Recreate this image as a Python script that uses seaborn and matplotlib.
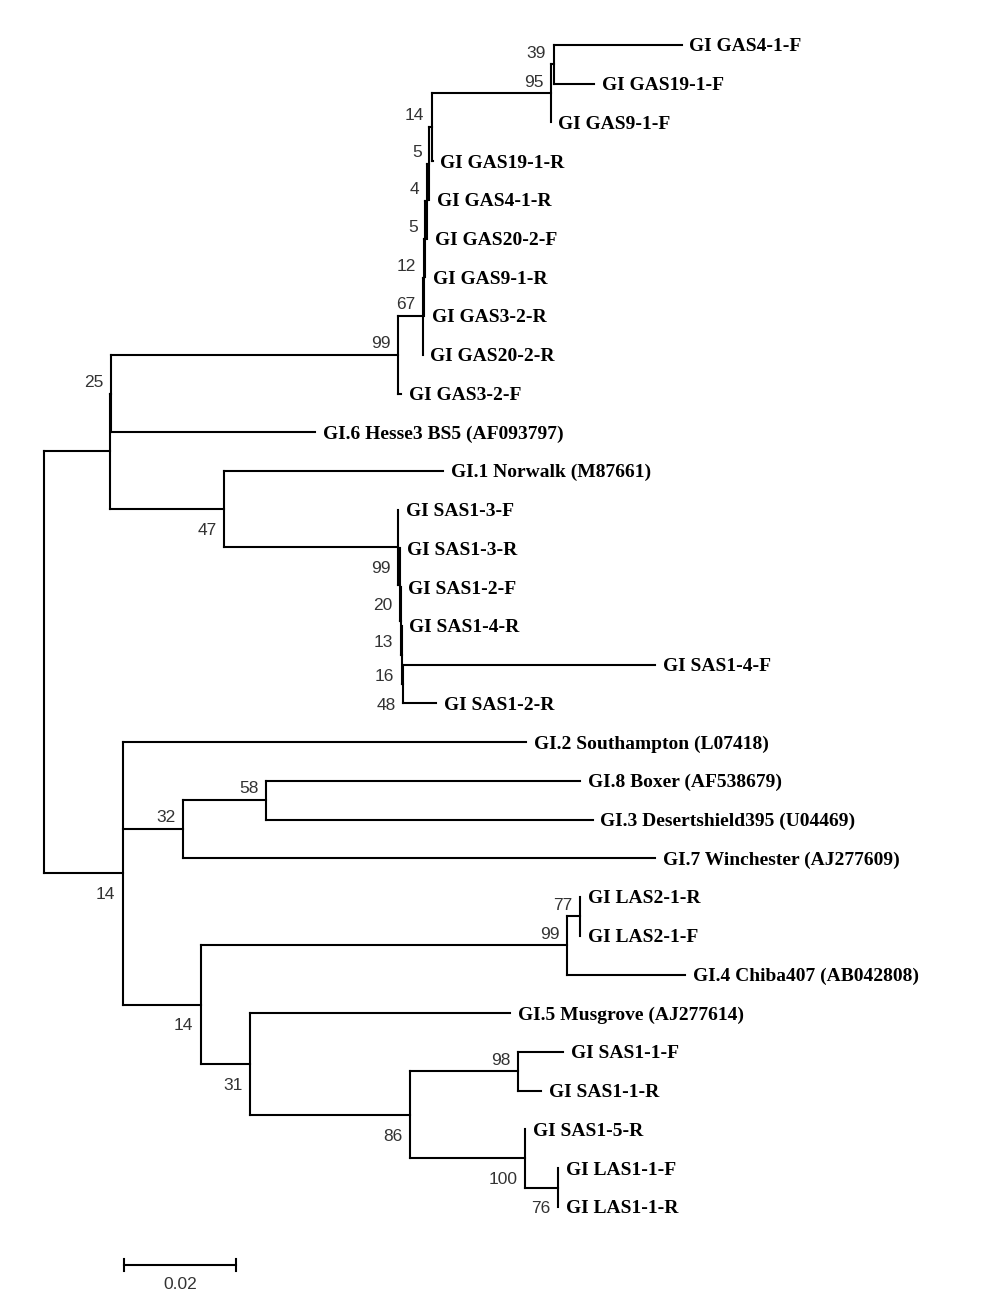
import pandas as pd
import matplotlib.pyplot as plt
import seaborn as sns

# tree edges, listed so that each node's children go top to bottom
parents = ["root", "root",
           "A", "A",
           "A1", "A1",
           "N99", "N99", "N67", "N67", "N12", "N12", "N5b", "N5b",
           "N4", "N4", "N5a", "N5a", "N14", "N14", "N95", "N95", "N39", "N39",
           "N47", "N47", "N99c", "N99c", "N20", "N20", "N13", "N13",
           "N16", "N16", "N48", "N48",
           "B", "B", "B", "N32", "N32", "N58", "N58",
           "N14b", "N14b", "N99b", "N99b", "N77", "N77",
           "N31", "N31", "N86", "N86", "N98", "N98", "N100", "N100", "N76", "N76"]
children = ["A", "B",
            "A1", "N47",
            "N99", "GI.6 Hesse3 BS5 (AF093797)",
            "N67", "GI GAS3-2-F", "N12", "GI GAS20-2-R", "N5b", "GI GAS3-2-R", "N4", "GI GAS9-1-R",
            "N5a", "GI GAS20-2-F", "N14", "GI GAS4-1-R", "N95", "GI GAS19-1-R", "N39", "GI GAS9-1-F",
            "GI GAS4-1-F", "GI GAS19-1-F",
            "GI.1 Norwalk (M87661)", "N99c", "GI SAS1-3-F", "N20", "GI SAS1-3-R", "N13", "GI SAS1-2-F", "N16",
            "GI SAS1-4-R", "N48", "GI SAS1-4-F", "GI SAS1-2-R",
            "GI.2 Southampton (L07418)", "N32", "N14b", "N58", "GI.7 Winchester (AJ277609)",
            "GI.8 Boxer (AF538679)", "GI.3 Desertshield395 (U04469)",
            "N99b", "N31", "N77", "GI.4 Chiba407 (AB042808)", "GI LAS2-1-R", "GI LAS2-1-F",
            "GI.5 Musgrove (AJ277614)", "N86", "N98", "N100", "GI SAS1-1-F", "GI SAS1-1-R",
            "GI SAS1-5-R", "N76", "GI LAS1-1-F", "GI LAS1-1-R"]
lengths = [0.0118, 0.0141,
           0.0002, 0.0204,
           0.0513, 0.0364,
           0.0043, 0.0005, 0.0002, 0.0, 0.0003, 0.0001, 0.0003, 0.0,
           0.0004, 0.0, 0.0004, 0.0, 0.0213, 0.0002, 0.0005, 0.0, 0.0229, 0.0073,
           0.0391, 0.0311, 0.0, 0.0002, 0.0, 0.0002, 0.0, 0.0002,
           0.0, 0.0002, 0.0450, 0.0059,
           0.0720, 0.0107, 0.0139, 0.0148, 0.0843, 0.0561, 0.0584,
           0.0654, 0.0088, 0.0023, 0.0211, 0.0, 0.0,
           0.0464, 0.0286, 0.0193, 0.0205, 0.0080, 0.0041, 0.0, 0.0059, 0.0, 0.0]

support_nodes = ["A1", "N99", "N67", "N12", "N5b", "N4", "N5a", "N14", "N95", "N39",
                 "N47", "N99c", "N20", "N13", "N16", "N48",
                 "B", "N32", "N58", "N14b", "N99b", "N77", "N31", "N86", "N98", "N100", "N76"]
support_values = [25, 99, 67, 12, 5, 4, 5, 14, 95, 39,
                  47, 99, 20, 13, 16, 48,
                  14, 32, 58, 14, 99, 77, 31, 86, 98, 100, 76]

scale_len = 0.02

# layout
kids = {}
for p, c in zip(parents, children):
    kids.setdefault(p, []).append(c)
blen = dict(zip(children, lengths))
xpos = {"root": 0.0}
ypos = {}
leaves = []


def place(node):
    for c in kids.get(node, []):
        xpos[c] = xpos[node] + blen[c]
        place(c)
    if node in kids:
        ypos[node] = (ypos[kids[node][0]] + ypos[kids[node][-1]]) / 2
    else:
        ypos[node] = len(leaves)
        leaves.append(node)


place("root")

rows = []
seg = 0
for node, cs in kids.items():
    rows += [(seg, xpos[node], ypos[cs[0]]), (seg, xpos[node], ypos[cs[-1]])]
    seg += 1
    for c in cs:
        rows += [(seg, xpos[node], ypos[c]), (seg, xpos[c], ypos[c])]
        seg += 1
segs = pd.DataFrame(rows, columns=["seg", "x", "y"])

fig = plt.figure(figsize=(10.07, 12.98), dpi=100)
ax = fig.add_axes([0, 0, 1, 1])
sns.lineplot(data=segs, x="x", y="y", units="seg", estimator=None, sort=False,
             color="black", lw=1.5, solid_capstyle="projecting", legend=False, ax=ax)

for leaf in leaves:
    ax.annotate(leaf, (xpos[leaf], ypos[leaf]), xytext=(5.5, -4.6), textcoords="offset points",
                ha="left", va="baseline", fontsize=14, fontweight="bold",
                family="Liberation Serif", color="black")

parent_of = dict(zip(children, parents))
for node, val in zip(support_nodes, support_values):
    last = kids[parent_of[node]][-1] == node
    dy = -18.5 if last else 4.9
    ax.annotate(str(val), (xpos[node], ypos[node]), xytext=(-5.4, dy), textcoords="offset points",
                ha="right", va="baseline", fontsize=12.5, family="Liberation Sans", color="#333333")

# scale bar
px = 1 / 5600
sb_x0 = 80 * px
sb_y = 31.5
ax.plot([sb_x0, sb_x0 + scale_len], [sb_y, sb_y], color="black", lw=1.5)
for xe in (sb_x0, sb_x0 + scale_len):
    ax.plot([xe, xe], [sb_y - 0.16, sb_y + 0.16], color="black", lw=1.5)
ax.text(sb_x0 + scale_len / 2, sb_y + 0.5, str(scale_len), ha="center", va="center",
        fontsize=12.5, family="Liberation Sans", color="#333333")

step = 38.73
ax.set_xlim(-44 * px, (1007 - 44) * px)
ax.set_ylim((1298 - 45) / step, -45 / step)
ax.axis("off")

fig.savefig("out.png", dpi=100, facecolor="white")
